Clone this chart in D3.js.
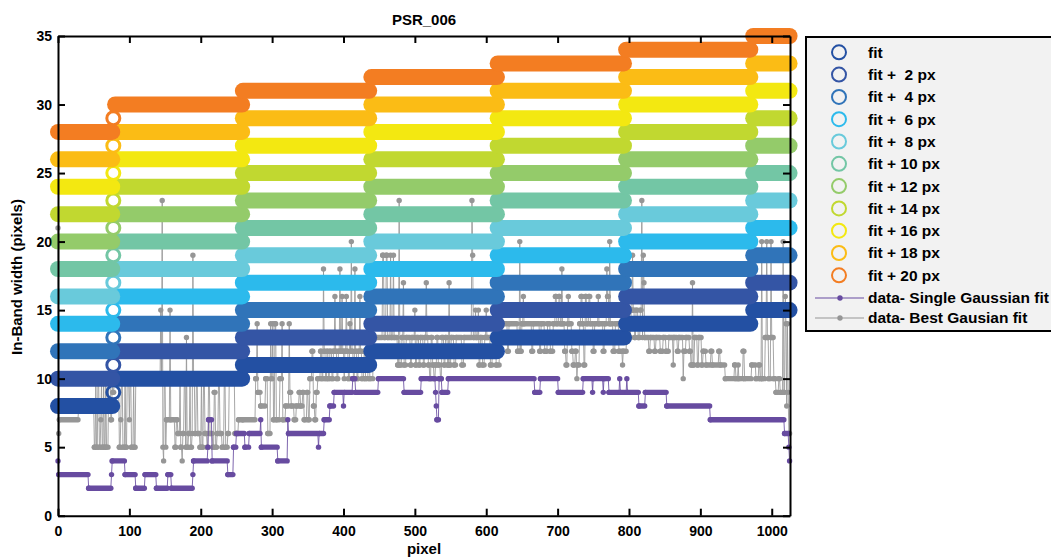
<!DOCTYPE html>
<html>
<head>
<meta charset="utf-8">
<script src="https://cdn.jsdelivr.net/npm/d3@7"></script>
<style>
  body { margin: 0; background: #ffffff; }
  svg text { font-family: "Liberation Sans", Arial, Helvetica, sans-serif; font-weight: bold; fill: #000; }
</style>
</head>
<body>
<svg id="chart" width="1051" height="557"></svg>
<script>
// ---- axis ticks ----
const xTicks = [0, 100, 200, 300, 400, 500, 600, 700, 800, 900, 1000];
const yTicks = [0, 5, 10, 15, 20, 25, 30, 35];

// ---- fitted width: piecewise-constant levels ----
const fitStart = [0, 80, 259, 439, 616, 796, 974];
const fitEnd   = [76, 258, 436, 615, 793, 970, 1025];
const fitLevel = [8, 10, 11, 12, 13, 14, 15];
// isolated sample between the first two levels
const fitStepX = [77.5];
const fitStepLevel = [9];
// offsets added to the fit, one curve each
const fitOffsets = [0, 2, 4, 6, 8, 10, 12, 14, 16, 18, 20];
const fitNames = ["fit", "fit +  2 px", "fit +  4 px", "fit +  6 px", "fit +  8 px",
                  "fit + 10 px", "fit + 12 px", "fit + 14 px", "fit + 16 px", "fit + 18 px", "fit + 20 px"];
const fitColors = ["#2350a3", "#3455a5", "#3074b9", "#2cbaec", "#69cadb", "#73c6a5",
                   "#94cb6a", "#c1d830", "#f3e811", "#fbbc15", "#f37d22"];

// ---- measured widths, run-length: [first pixel, width]; a run lasts until the next one starts ----
const singleRuns = [
  [0,4],[1,3],[43,2],[75,3],[76,4],[94,3],[109,2],[122,3],[138,2],[154,3],[159,2],[189,3],[190,4],
  [210,5],[211,7],[216,4],[238,3],[246,5],[250,6],[262,5],[268,6],[284,7],[285,5],[308,4],[322,7],
  [323,6],[365,5],[366,6],[373,7],[381,8],[387,9],[400,8],[401,9],[413,10],[417,9],[449,10],[485,9],
  [509,10],[529,9],[530,8],[531,7],[534,10],[538,9],[547,10],[668,9],[676,10],[701,9],[736,10],
  [749,9],[750,10],[764,9],[765,10],[772,9],[787,10],[788,9],[797,10],[798,9],[814,8],[823,9],
  [853,8],[914,7],[1018,6],[1024,5],[1025,4]
];

const bestRuns = [
  [0,21],[1,6],[2,7],[29,8],[51,5],[53,10],[54,5],[56,10],[58,5],[60,7],[61,10],[62,5],[64,10],[65,5],
  [67,10],[68,5],[71,10],[74,7],[76,10],[77,9],[79,10],
  [86,5],[88,7],[89,10],[91,5],[94,10],[95,5],[97,10],[100,7],[101,10],[103,5],[106,10],[107,5],[109,10],
  [144,15],[145,10],[146,23],[147,5],[148,4],[149,10],[151,5],[152,7],[157,15],[158,7],[164,5],[166,7],
  [168,6],[171,10],[172,5],[174,4],[175,6],[177,10],[179,5],[180,13],[181,5],[183,6],[185,10],[186,5],
  [188,6],[189,19],[190,10],[192,6],[194,10],[196,6],[199,5],[201,10],[202,5],[204,10],[206,6],[209,5],
  [211,10],[213,6],[217,5],[219,9],[221,5],[223,6],[225,10],[227,6],[230,5],[233,10],[235,5],[238,6],
  [240,10],[248,6],[253,7],
  [259,7],[277,10],[279,14],[280,9],[284,8],[291,10],[294,6],[298,14],[299,10],[301,14],[302,7],[304,14],
  [306,7],[311,10],[314,14],[315,7],[319,8],[324,14],[325,9],[327,8],[331,7],[334,8],[338,9],[340,8],
  [343,9],[345,7],[349,9],[351,7],[353,10],[356,12],[358,8],[360,7],[362,9],[364,10],[368,12],[370,10],
  [372,18],[373,12],[375,10],[377,12],[379,10],[381,12],[384,10],[386,12],[388,16],[389,12],[391,10],
  [393,12],[395,18],[396,12],[398,16],[399,12],[401,10],[402,12],[404,16],[405,12],[407,10],[409,14],
  [410,12],[411,20],[412,12],[414,10],[416,18],[417,12],[419,10],[421,12],[423,16],[424,12],[426,10],
  [429,12],[431,10],[435,12],
  [437,10],[442,13],[455,19],[457,13],[460,19],[462,13],[466,19],[467,13],[470,19],[471,13],[476,11],
  [478,23],[479,11],[482,13],[484,17],[485,11],[488,13],[494,11],[496,13],[500,15],[501,11],[503,13],
  [506,11],[508,13],[512,11],[514,13],[516,17],[517,13],[519,11],[521,10],[523,13],[525,11],[527,10],
  [529,11],[531,13],[533,11],[536,10],[538,13],[541,11],[543,13],[546,11],[548,17],[549,11],[551,13],
  [555,11],[558,13],[566,11],[569,13],[580,23],[581,19],[582,13],[585,15],[586,13],[589,15],[590,11],
  [592,13],[595,11],[598,13],[600,15],[601,13],[606,11],[609,13],[614,11],
  [619,14],[630,12],[632,14],[644,12],[647,20],[648,12],[650,14],[652,16],[653,14],[664,12],[666,14],
  [675,12],[677,14],[682,12],[686,14],[690,12],[694,14],[697,16],[699,14],[702,16],[704,14],[706,18],
  [707,14],[710,12],[712,11],[714,14],[715,16],[716,14],[720,12],[722,11],[725,12],[727,10],[728,11],
  [731,14],[733,16],[735,14],[737,11],[739,16],[741,14],[744,16],[746,14],[750,12],[752,14],[757,16],
  [758,14],[764,12],[766,14],[769,18],[770,16],[772,14],[773,20],[774,14],[778,12],[781,14],[786,12],
  [791,11],[792,12],
  [797,15],[801,13],[803,15],[805,19],[806,15],[808,13],[810,15],[813,13],[816,15],[818,23],[819,13],
  [820,19],[821,17],[822,13],[828,12],[830,13],[836,12],[838,13],[844,12],[848,13],[852,12],[856,13],
  [862,11],[863,13],[868,12],[870,13],[876,10],[877,12],[880,13],[885,12],[887,11],[889,17],[890,11],
  [892,13],[896,11],[898,13],[902,11],[904,12],[908,11],[915,12],[917,11],[926,12],[928,11],[935,10],
  [948,11],[950,10],[953,11],[954,10],[960,12],[962,10],
  [972,11],[978,10],[982,11],[984,10],[986,20],[987,10],[991,13],[993,20],[994,13],[996,10],[999,20],
  [1000,13],[1003,10],[1006,9],[1010,10],[1012,9],[1016,20],[1017,9],[1019,16],[1020,14],[1021,8],
  [1022,14],[1023,9],[1024,6]
];
const lastPixel = 1025;

const singleColor = "#674ba0";
const bestColor = "#969696";

// ---- layout ----
const svg = d3.select("#chart");
const x = d3.scaleLinear().domain([0, 1025.6]).range([58, 790]);
const y = d3.scaleLinear().domain([0, 35]).range([515.7, 36]);

// expand runs into [start,end,value] segments
function toSegments(runs) {
  return runs.map((r, i) => ({
    a: r[0],
    b: i < runs.length - 1 ? Math.max(r[0], runs[i + 1][0] - 1) : lastPixel,
    v: r[1]
  }));
}

function drawSeries(runs, color) {
  const segs = toSegments(runs);
  const g = svg.append("g");
  const pts = [];
  segs.forEach(s => { pts.push([s.a, s.v]); pts.push([s.b, s.v]); });
  const line = d3.line().x(d => x(d[0])).y(d => y(d[1]));
  g.append("path").attr("d", line(pts)).attr("fill", "none")
    .attr("stroke", color).attr("stroke-width", 1).attr("opacity", 0.85);
  g.selectAll("line.run").data(segs.filter(s => s.b > s.a)).join("line")
    .attr("x1", s => x(s.a)).attr("x2", s => x(s.b))
    .attr("y1", s => y(s.v)).attr("y2", s => y(s.v))
    .attr("stroke", color).attr("stroke-width", 5.4).attr("stroke-linecap", "round");
  g.selectAll("circle.pt").data(segs).join("circle")
    .attr("cx", s => x(s.a)).attr("cy", s => y(s.v)).attr("r", 2.7).attr("fill", color);
}

drawSeries(bestRuns, bestColor);
drawSeries(singleRuns, singleColor);

// ---- fit bands ----
const fitSegs = fitStart.map((s, i) => ({ a: s, b: fitEnd[i], v: fitLevel[i] }));
fitOffsets.forEach((off, k) => {
  const g = svg.append("g");
  g.selectAll("line").data(fitSegs).join("line")
    .attr("x1", d => x(d.a)).attr("x2", d => x(d.b))
    .attr("y1", d => y(d.v + off)).attr("y2", d => y(d.v + off))
    .attr("stroke", fitColors[k]).attr("stroke-width", 16).attr("stroke-linecap", "round");
  g.selectAll("circle").data(fitStepX).join("circle")
    .attr("cx", d => x(d)).attr("cy", (d, i) => y(fitStepLevel[i] + off))
    .attr("r", 6.5).attr("fill", "none").attr("stroke", fitColors[k]).attr("stroke-width", 3);
});

// ---- axes (box with inward ticks) ----
function styleAxis(g) {
  g.select(".domain").attr("stroke", "#000").attr("stroke-width", 2);
  g.selectAll(".tick line").attr("stroke", "#000").attr("stroke-width", 2);
  g.selectAll("text").attr("font-size", 14).attr("font-family", "Liberation Sans, Arial, sans-serif")
    .attr("font-weight", "bold").attr("fill", "#000");
}
svg.append("g").attr("transform", `translate(0,${y(0)})`)
  .call(d3.axisBottom(x).tickValues(xTicks).tickSizeInner(-7).tickSizeOuter(0).tickPadding(10).tickFormat(d3.format("d")))
  .call(styleAxis);
svg.append("g").attr("transform", `translate(0,${y(35)})`)
  .call(d3.axisTop(x).tickValues(xTicks).tickSizeInner(-7).tickSizeOuter(0).tickFormat(""))
  .call(styleAxis);
svg.append("g").attr("transform", `translate(${x(0)},0)`)
  .call(d3.axisLeft(y).tickValues(yTicks).tickSizeInner(-7).tickSizeOuter(0).tickPadding(6).tickFormat(d3.format("d")))
  .call(styleAxis);
svg.append("g").attr("transform", `translate(${x(1025.6)},0)`)
  .call(d3.axisRight(y).tickValues(yTicks).tickSizeInner(-7).tickSizeOuter(0).tickFormat(""))
  .call(styleAxis);

// ---- titles ----
svg.append("text").attr("x", 424).attr("y", 25).attr("text-anchor", "middle")
  .attr("font-size", 15).text("PSR_006");
svg.append("text").attr("x", 424).attr("y", 554).attr("text-anchor", "middle")
  .attr("font-size", 15).text("pixel");
svg.append("text").attr("transform", "translate(22,277) rotate(-90)").attr("text-anchor", "middle")
  .attr("font-size", 15).text("In-Band width (pixels)");

// ---- legend ----
const leg = svg.append("g");
leg.append("rect").attr("x", 806).attr("y", 37).attr("width", 320).attr("height", 294)
  .attr("fill", "#f2f2f2").attr("stroke", "#000").attr("stroke-width", 2);
const rowY = fitNames.map((_, i) => 52.3 + 22.3 * i);
fitNames.forEach((name, i) => {
  leg.append("circle").attr("cx", 839).attr("cy", rowY[i]).attr("r", 7)
    .attr("fill", "none").attr("stroke", fitColors[i]).attr("stroke-width", 2);
  leg.append("text").attr("x", 868).attr("y", rowY[i] + 5.4).attr("font-size", 15.5)
    .style("white-space", "pre").text(name);
});
const dataNames = ["data- Single Gaussian fit", "data- Best Gausian fit"];
const dataColors = [singleColor, bestColor];
[298, 318].forEach((ry, i) => {
  leg.append("line").attr("x1", 815).attr("x2", 864).attr("y1", ry).attr("y2", ry)
    .attr("stroke", dataColors[i]).attr("stroke-width", 1.2);
  leg.append("circle").attr("cx", 840).attr("cy", ry).attr("r", 2.7).attr("fill", dataColors[i]);
  leg.append("text").attr("x", 868).attr("y", ry + 5.4).attr("font-size", 15.5).text(dataNames[i]);
});
</script>
</body>
</html>
